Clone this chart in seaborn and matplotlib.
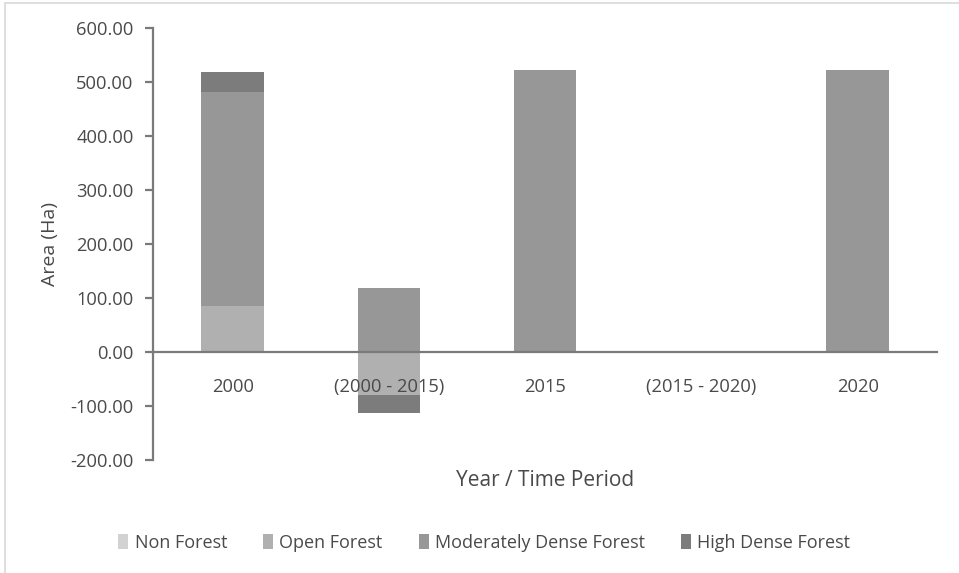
import numpy as np
import pandas as pd
import matplotlib
matplotlib.use("Agg")
import matplotlib.pyplot as plt
from matplotlib.patches import Patch
from matplotlib.lines import Line2D
import seaborn as sns

# Forest cover area (Ha) per year and change per period
categories = ["2000", "(2000 - 2015)", "2015", "(2015 - 2020)", "2020"]
classes = ["Non Forest", "Open Forest", "Moderately Dense Forest", "High Dense Forest"]
non_forest = [0, 0, 0, 0, 0]
open_forest = [86, -80, 0, 0, 0]
moderately_dense = [396, 118, 522, 0, 522]
high_dense = [37, -33, 0, 0, 0]
colors = ["#d2d2d2", "#b0b0b0", "#979797", "#7c7c7c"]

sns.set_theme(style="white")
plt.rcParams["font.family"] = ["Open Sans", "DejaVu Sans"]
text_color = "#4a4a4a"

fig = plt.figure(figsize=(9.59, 5.73), dpi=100)
ax = fig.add_axes([0.1595, 0.197, 0.818, 0.754])

values = np.array([non_forest, open_forest, moderately_dense, high_dense], dtype=float)
pos = np.clip(values, 0, None).cumsum(axis=0)
neg = np.clip(values, None, 0).cumsum(axis=0)

# stacked bars: draw the outermost cumulative layer first, inner layers on top
for i in range(len(classes) - 1, -1, -1):
    for part in (pos[i], neg[i]):
        df = pd.DataFrame({"period": categories, "area": part})
        sns.barplot(data=df, x="period", y="area", order=categories,
                    color=colors[i], saturation=1, width=0.4,
                    linewidth=0, ax=ax, errorbar=None)

ax.set_axisbelow(False)
ax.set_xlim(-0.51, 4.51)
ax.set_ylim(-200, 600)
ax.set_yticks(np.arange(-200, 601, 100))
ax.yaxis.set_major_formatter(matplotlib.ticker.FormatStrFormatter("%.2f"))

for s in ("top", "right"):
    ax.spines[s].set_visible(False)
ax.spines["bottom"].set_position(("data", 0))
ax.spines["bottom"].set_color("#7a7a7a")
ax.spines["bottom"].set_linewidth(1.6)
ax.spines["bottom"].set_zorder(5)
ax.spines["left"].set_color("#7a7a7a")
ax.spines["left"].set_linewidth(1.6)

ax.tick_params(axis="y", which="major", left=True, length=6, width=1.6,
               color="#7a7a7a", labelsize=13.2, labelcolor=text_color, pad=8)
ax.tick_params(axis="x", which="major", bottom=False, length=0,
               labelsize=13.2, labelcolor=text_color, pad=19)

ax.set_ylabel("Area (Ha)", fontsize=14, color=text_color, labelpad=8)
ax.set_xlabel("Year / Time Period", fontsize=15, color=text_color)
ax.xaxis.set_label_coords(0.5, -0.024)
ax.xaxis.label.set_va("top")

handles = [Patch(facecolor=c, edgecolor="none") for c in colors]
fig.legend(handles, classes, loc="center", bbox_to_anchor=(0.505, 0.053),
           ncol=4, frameon=False, fontsize=13, labelcolor=text_color,
           handlelength=0.55, handleheight=0.9, handletextpad=0.35,
           columnspacing=2.0)

# thin page frame at top and left
fig.add_artist(Line2D([0.005, 1.0], [0.995, 0.995], transform=fig.transFigure,
                      color="#d9d9d9", linewidth=1.2))
fig.add_artist(Line2D([0.0055, 0.0055], [0.0, 0.995], transform=fig.transFigure,
                      color="#d9d9d9", linewidth=1.2))

fig.savefig("out.png", dpi=100)
